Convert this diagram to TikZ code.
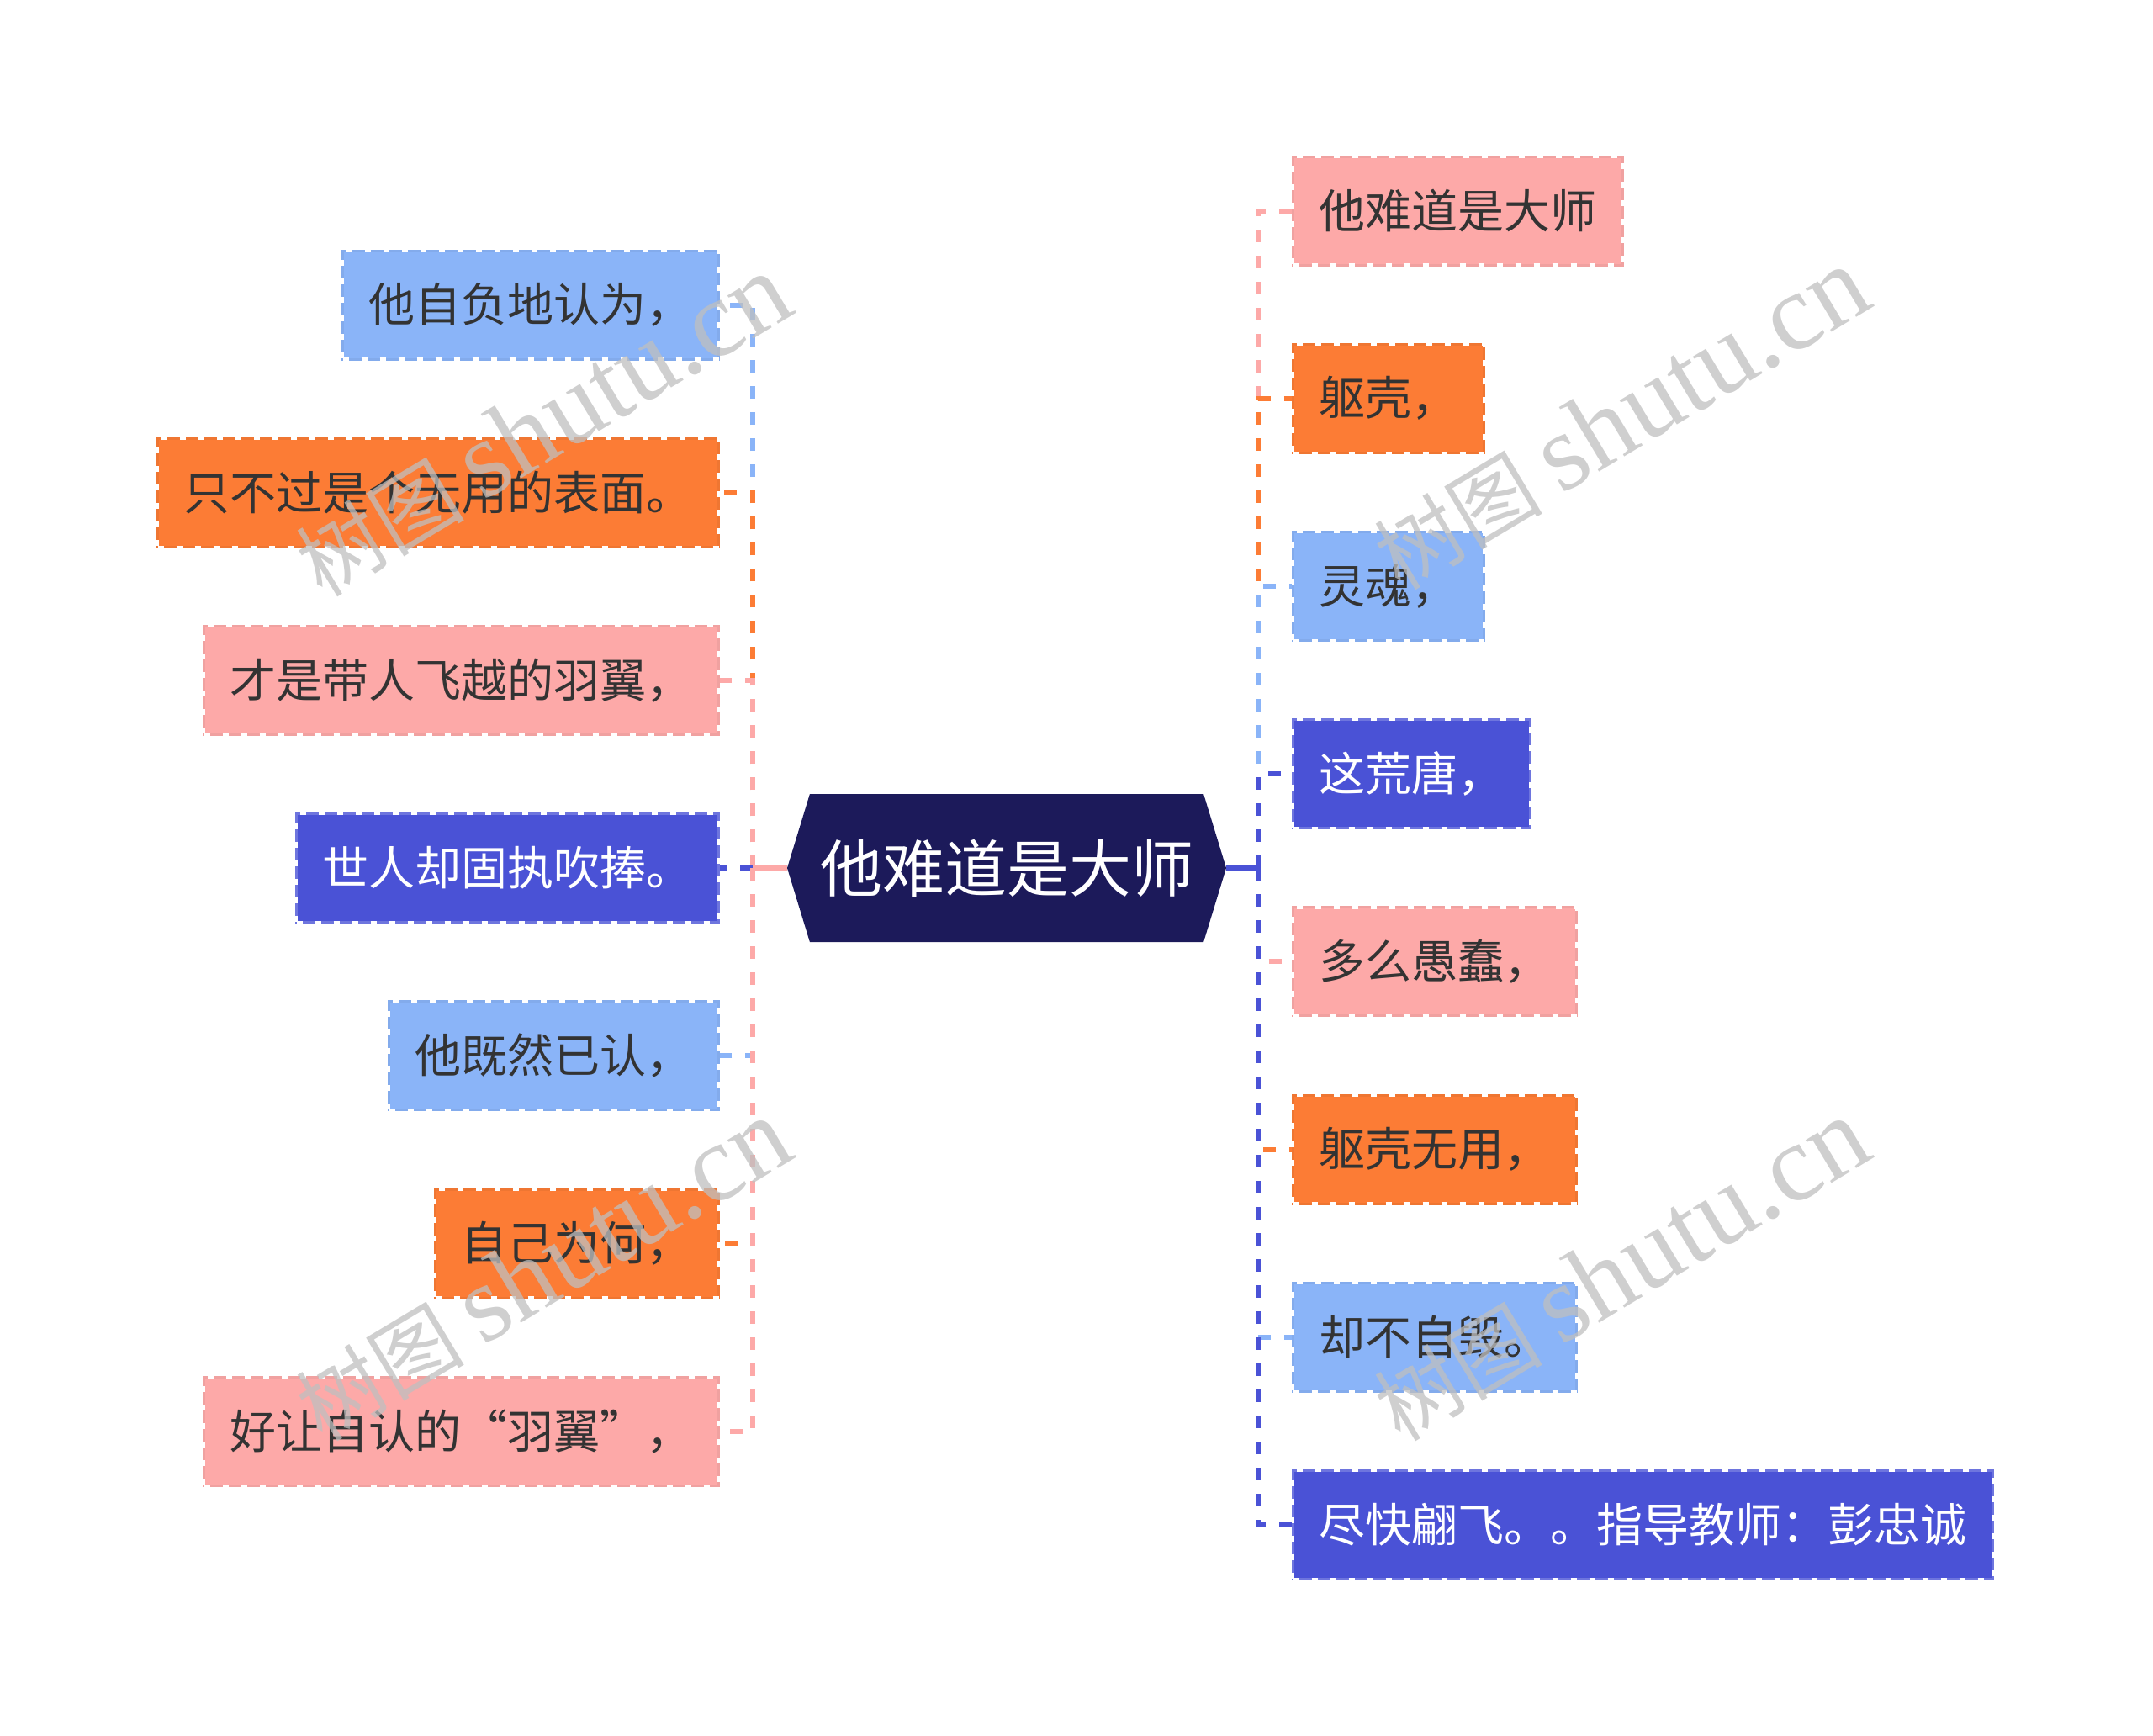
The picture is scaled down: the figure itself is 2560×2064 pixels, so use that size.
\documentclass[tikz,border=0pt]{standalone}
\usepackage{fontspec}
\setmainfont{Noto Sans CJK SC}
\newfontfamily\wmlat{Liberation Serif}
\newfontfamily\wmcjk{Noto Sans CJK SC}
\usetikzlibrary{shapes.symbols}
\definecolor{lblue}{HTML}{8AB4F8}
\definecolor{orng}{HTML}{FC7C35}
\definecolor{pnk}{HTML}{FDA9A8}
\definecolor{pblue}{HTML}{4A52D6}
\definecolor{navy}{HTML}{1C1A5A}
\definecolor{txt}{HTML}{333333}
\definecolor{wmgray}{HTML}{BFBFBF}
\begin{document}
\begin{tikzpicture}[x=1pt,y=1pt,
  box/.style={minimum height=129pt, inner xsep=31pt, inner ysep=0pt,
    font=\fontsize{55}{66}\selectfont, line width=3pt,
    postaction={draw=white, fill=none, line width=3.4pt, dash pattern=on 7pt off 15pt}},
  bxlblue/.style={box, fill=lblue, draw=lblue!95!black, text=txt},
  bxorng/.style={box, fill=orng, draw=orng!95!black, text=txt},
  bxpnk/.style={box, fill=pnk, draw=pnk!95!black, text=txt},
  bxpblue/.style={box, fill=pblue, draw=pblue!80!white, text=white},
  conn/.style={line width=6pt, dash pattern=on 15pt off 16pt},
  stub/.style={line width=6pt},
  centre/.style={shape=signal, signal to=west and east, signal pointer angle=146,
    fill=navy, text=white, minimum width=522pt, minimum height=176pt, inner sep=0pt,
    font=\fontsize{74}{88}\selectfont},
  wm/.style={text=wmgray, opacity=0.75, rotate=31}
]
\useasboundingbox (0,0) rectangle (2560,-2064);

\node[centre] (c) at (1197,-1032) {他难道是大师};

% left children
\node[bxlblue, anchor=east] (L1) at (856,-362.5) {他自负地认为，};
\node[bxorng, anchor=east] (L2) at (856,-585.7) {只不过是个无用的表面。};
\node[bxpnk, anchor=east] (L3) at (856,-808.9) {才是带人飞越的羽翼，};
\node[bxpblue, anchor=east] (L4) at (856,-1032.1) {世人却固执吹捧。};
\node[bxlblue, anchor=east] (L5) at (856,-1255.3) {他既然已认，};
\node[bxorng, anchor=east] (L6) at (856,-1478.5) {自己为何，};
\node[bxpnk, anchor=east] (L7) at (856,-1701.7) {好让自认的\makebox[1em][r]{“}羽翼\makebox[1em][l]{”}，};

% right children
\node[bxpnk, anchor=west] (R1) at (1536,-250.6) {他难道是大师};
\node[bxorng, anchor=west] (R2) at (1536,-473.8) {躯壳，};
\node[bxlblue, anchor=west] (R3) at (1536,-697.0) {灵魂，};
\node[bxpblue, anchor=west] (R4) at (1536,-920.2) {这荒唐，};
\node[bxpnk, anchor=west] (R5) at (1536,-1143.4) {多么愚蠢，};
\node[bxorng, anchor=west] (R6) at (1536,-1366.6) {躯壳无用，};
\node[bxlblue, anchor=west] (R7) at (1536,-1589.8) {却不自毁。};
\node[bxpblue, anchor=west] (R8) at (1536,-1813.0) {尽快翩飞。。指导教师：彭忠诚};

\coordinate (lb) at (895,-1032);
\coordinate (rb) at (1496,-1032);

\draw[conn, draw=lblue] (lb) |- (L1.east);
\draw[conn, draw=orng] (lb) |- (L2.east);
\draw[conn, draw=pnk] (lb) |- (L3.east);
\draw[conn, draw=pblue] (lb) -- (L4.east);
\draw[conn, draw=lblue] (lb) |- (L5.east);
\draw[conn, draw=orng] (lb) |- (L6.east);
\draw[conn, draw=pnk] (lb) |- (L7.east);
\draw[stub, draw=pnk] (c.west) -- (lb);

\draw[conn, draw=pnk] (rb) |- (R1.west);
\draw[conn, draw=orng] (rb) |- (R2.west);
\draw[conn, draw=lblue] (rb) |- (R3.west);
\draw[conn, draw=pblue] (rb) |- (R4.west);
\draw[conn, draw=pnk] (rb) |- (R5.west);
\draw[conn, draw=orng] (rb) |- (R6.west);
\draw[conn, draw=lblue] (rb) |- (R7.west);
\draw[conn, draw=pblue] (rb) |- (R8.west);
\draw[stub, draw=pblue] (c.east) -- (rb);

% watermarks
\node[wm] (w1) at (645,-506) {\wmcjk\fontsize{100}{110}\selectfont 树图 \wmlat\fontsize{130}{140}\selectfont shutu.cn};
\node[wm] (w2) at (1927,-498) {\wmcjk\fontsize{100}{110}\selectfont 树图 \wmlat\fontsize{130}{140}\selectfont shutu.cn};
\node[wm] (w3) at (645,-1510) {\wmcjk\fontsize{100}{110}\selectfont 树图 \wmlat\fontsize{130}{140}\selectfont shutu.cn};
\node[wm] (w4) at (1927,-1510) {\wmcjk\fontsize{100}{110}\selectfont 树图 \wmlat\fontsize{130}{140}\selectfont shutu.cn};
\end{tikzpicture}
\end{document}
